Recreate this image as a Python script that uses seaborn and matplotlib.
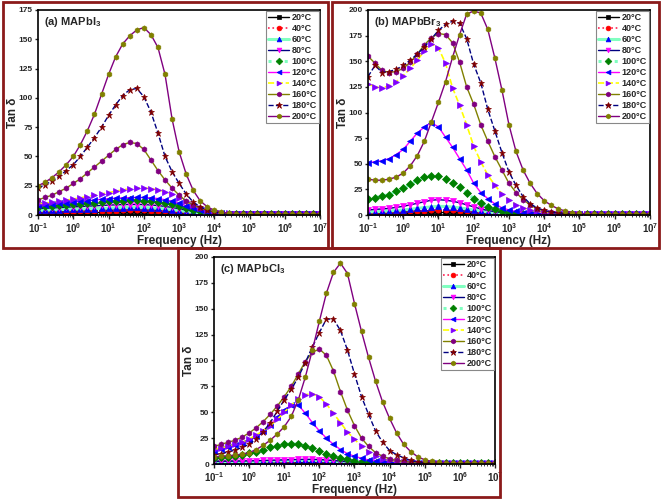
import matplotlib
matplotlib.use("Agg")
import matplotlib.pyplot as plt
from matplotlib.patches import Rectangle
from matplotlib.ticker import LogLocator, NullFormatter
import numpy as np
import seaborn as sns

# log10 of frequency (Hz) for every sample
log_freq = [-1.0, -0.8, -0.6, -0.4, -0.2, 0.0, 0.2, 0.4, 0.6, 0.8,
            1.0, 1.2, 1.4, 1.6, 1.8, 2.0, 2.2, 2.4, 2.6, 2.8,
            3.0, 3.2, 3.4, 3.6, 3.8, 4.0, 4.2, 4.4, 4.6, 4.8,
            5.0, 5.2, 5.4, 5.6, 5.8, 6.0, 6.2, 6.4, 6.6, 6.8, 7.0]

temps = ["20°C", "40°C", "60°C", "80°C", "100°C", "120°C", "140°C", "160°C", "180°C", "200°C"]

# (a) MAPbI3
a20 = [1.5, 1.6, 1.6, 1.7, 1.8, 1.8, 1.9, 2.0, 2.1, 2.2, 2.3, 2.4, 2.4, 2.5, 2.5, 2.4, 2.4, 2.3, 2.1, 1.9,
       1.6, 1.3, 1.1, 0.9, 0.7, 0.6, 0.5, 0.5, 0.5, 0.5, 0.5, 0.5, 0.5, 0.5, 0.5, 0.5, 0.5, 0.5, 0.5, 0.5, 0.5]
a40 = [2.5, 2.6, 2.7, 2.8, 2.9, 3.0, 3.1, 3.3, 3.4, 3.5, 3.7, 3.8, 3.9, 4.0, 4.0, 3.9, 3.8, 3.6, 3.3, 2.9,
       2.4, 1.9, 1.5, 1.1, 0.9, 0.7, 0.6, 0.5, 0.5, 0.5, 0.5, 0.5, 0.5, 0.5, 0.5, 0.5, 0.5, 0.5, 0.5, 0.5, 0.5]
a60 = [4.0, 4.2, 4.4, 4.6, 4.8, 5.0, 5.2, 5.4, 5.6, 5.8, 6.0, 6.2, 6.4, 6.5, 6.5, 6.4, 6.2, 5.8, 5.3, 4.6,
       3.8, 3.0, 2.3, 1.7, 1.2, 0.9, 0.7, 0.6, 0.6, 0.5, 0.5, 0.5, 0.5, 0.5, 0.5, 0.5, 0.5, 0.5, 0.5, 0.5, 0.5]
a80 = [5.5, 5.8, 6.1, 6.4, 6.7, 7.0, 7.3, 7.6, 7.9, 8.2, 8.5, 8.7, 8.9, 9.0, 9.0, 8.9, 8.6, 8.1, 7.4, 6.5,
       5.4, 4.3, 3.3, 2.4, 1.7, 1.2, 0.9, 0.8, 0.7, 0.6, 0.6, 0.5, 0.5, 0.5, 0.5, 0.5, 0.5, 0.5, 0.5, 0.5, 0.5]
a100 = [7.0, 7.4, 7.8, 8.2, 8.7, 9.2, 9.7, 10.2, 10.7, 11.2, 11.6, 12.0, 12.3, 12.5, 12.5, 12.4, 12.1, 11.5, 10.6, 9.3,
        7.8, 6.1, 4.5, 3.2, 2.2, 1.5, 1.1, 0.9, 0.8, 0.7, 0.6, 0.6, 0.6, 0.5, 0.5, 0.5, 0.5, 0.5, 0.5, 0.5, 0.5]
a120 = [8.5, 9.0, 9.5, 10.0, 10.6, 11.1, 11.7, 12.3, 12.9, 13.5, 14.0, 14.4, 14.7, 14.9, 15.0, 15.0, 14.7, 14.1, 13.1, 11.7,
        9.9, 7.9, 5.9, 4.2, 2.9, 2.0, 1.4, 1.1, 0.9, 0.8, 0.7, 0.6, 0.6, 0.6, 0.5, 0.5, 0.5, 0.5, 0.5, 0.5, 0.5]
a140 = [9.5, 10.2, 11.0, 11.8, 12.7, 13.7, 14.7, 15.8, 16.9, 18.0, 19.2, 20.4, 21.5, 22.4, 23.0, 23.1, 22.6, 21.6, 20.0, 17.6,
        14.7, 11.6, 8.6, 6.1, 4.2, 2.8, 1.9, 1.4, 1.1, 0.9, 0.8, 0.7, 0.7, 0.6, 0.6, 0.6, 0.5, 0.5, 0.5, 0.5, 0.5]
a160 = [13, 15, 17, 20, 23, 27, 31, 36, 41, 46, 51, 56, 60, 62, 61, 56, 47, 38, 30, 23,
        17, 12, 8.5, 6, 4, 2.7, 1.8, 1.3, 1.0, 0.8, 0.7, 0.7, 0.6, 0.6, 0.6, 0.5, 0.5, 0.5, 0.5, 0.5, 0.5]
a180 = [23, 26, 29, 33, 38, 43, 50, 58, 66, 75, 85, 94, 102, 107, 108, 101, 88, 70, 50, 37,
        27, 18, 11, 7, 4, 2.5, 1.6, 1.2, 0.9, 0.8, 0.7, 0.7, 0.6, 0.6, 0.6, 0.5, 0.5, 0.5, 0.5, 0.5, 0.5]
a200 = [25, 28, 32, 37, 43, 50, 60, 72, 86, 103, 120, 135, 146, 153, 158, 160, 154, 143, 120, 82,
        54, 35, 21, 12, 7, 4, 2.5, 1.7, 1.2, 1.0, 0.8, 0.7, 0.7, 0.6, 0.6, 0.6, 0.5, 0.5, 0.5, 0.5, 0.5]

# (b) MAPbBr3
b20 = [1.0, 1.1, 1.2, 1.3, 1.4, 1.6, 1.8, 2.0, 2.2, 2.4, 2.5, 2.5, 2.4, 2.2, 2.0, 1.8, 1.5, 1.3, 1.1, 0.9,
       0.8, 0.7, 0.6, 0.6, 0.5, 0.5, 0.5, 0.5, 0.5, 0.5, 0.5, 0.5, 0.5, 0.5, 0.5, 0.5, 0.5, 0.5, 0.5, 0.5, 0.5]
b40 = [2.0, 2.2, 2.4, 2.6, 2.9, 3.2, 3.6, 4.0, 4.4, 4.8, 5.0, 4.9, 4.6, 4.2, 3.7, 3.1, 2.5, 2.0, 1.6, 1.3,
       1.1, 0.9, 0.8, 0.7, 0.7, 0.6, 0.6, 0.6, 0.6, 0.6, 0.5, 0.5, 0.5, 0.5, 0.5, 0.5, 0.5, 0.5, 0.5, 0.5, 0.5]
b60 = [3.0, 3.3, 3.6, 4.0, 4.5, 5.0, 5.7, 6.5, 7.3, 8.0, 8.5, 8.3, 7.8, 7.0, 6.0, 5.0, 4.0, 3.0, 2.3, 1.7,
       1.3, 1.1, 0.9, 0.8, 0.8, 0.7, 0.7, 0.7, 0.6, 0.6, 0.6, 0.6, 0.6, 0.6, 0.6, 0.6, 0.6, 0.6, 0.6, 0.6, 0.6]
b80 = [5.0, 5.5, 6.0, 6.5, 7.5, 8.5, 10.0, 11.5, 13.0, 14.5, 15.0, 14.5, 13.5, 12.0, 10.0, 8.0, 6.0, 4.5, 3.3, 2.4,
       1.8, 1.4, 1.1, 1.0, 0.9, 0.8, 0.8, 0.7, 0.7, 0.7, 0.6, 0.6, 0.6, 0.6, 0.6, 0.6, 0.6, 0.6, 0.6, 0.6, 0.6]
b100 = [16, 17, 18.5, 20, 23, 26, 30, 34, 37, 38.5, 38, 35, 31, 27, 22, 16, 12, 8, 5.5, 3.5,
        2.5, 1.8, 1.4, 1.1, 1.0, 0.9, 0.8, 0.8, 0.7, 0.7, 0.7, 0.6, 0.6, 0.6, 0.6, 0.6, 0.6, 0.6, 0.6, 0.6, 0.6]
b120 = [51, 52, 53, 55, 59, 64, 72, 80, 86, 90, 86, 76, 66, 55, 44, 31, 22, 16, 11, 7,
        5, 3.5, 2.5, 1.8, 1.4, 1.1, 1.0, 0.9, 0.9, 0.8, 0.8, 0.8, 0.7, 0.7, 0.7, 0.7, 0.7, 0.7, 0.7, 0.7, 0.7]
b140 = [128, 125, 124, 126, 130, 136, 143, 151, 160, 167, 163, 148, 124, 107, 88, 67, 52, 39, 29, 21,
        15, 10, 7, 5, 3.5, 2.5, 1.8, 1.3, 1.1, 1.0, 0.9, 0.9, 0.8, 0.8, 0.8, 0.7, 0.7, 0.7, 0.7, 0.7, 0.7]
b160 = [155, 148, 141, 139, 140, 143, 149, 157, 166, 173, 177, 176, 168, 149, 125, 108, 88, 72, 57, 44,
        31, 22, 15, 10, 6, 4, 2.7, 1.9, 1.4, 1.1, 1.0, 0.9, 0.9, 0.8, 0.8, 0.8, 0.7, 0.7, 0.7, 0.7, 0.7]
b180 = [135, 146, 139, 140, 142, 146, 151, 157, 164, 172, 180, 186, 189, 187, 172, 147, 129, 103, 82, 61,
        42, 29, 18, 11, 7, 4.5, 3, 2, 1.5, 1.2, 1.0, 0.9, 0.9, 0.8, 0.8, 0.8, 0.7, 0.7, 0.7, 0.7, 0.7]
b200 = [35, 34, 34, 35, 37, 41, 48, 58, 72, 91, 110, 130, 154, 176, 196, 199, 197, 181, 153, 122,
        88, 62, 44, 31, 21, 14, 9.5, 6, 4, 2.5, 1.7, 1.3, 1.1, 1.0, 0.9, 0.9, 0.8, 0.8, 0.8, 0.8, 0.8]

# (c) MAPbCl3
c20 = [1.0, 1.0, 1.0, 1.1, 1.1, 1.2, 1.2, 1.3, 1.3, 1.4, 1.4, 1.5, 1.5, 1.5, 1.5, 1.4, 1.3, 1.2, 1.0, 0.9,
       0.8, 0.7, 0.6, 0.5, 0.5, 0.5, 0.5, 0.5, 0.5, 0.5, 0.5, 0.5, 0.5, 0.5, 0.5, 0.5, 0.5, 0.5, 0.5, 0.5, 0.5]
c40 = [1.5, 1.5, 1.6, 1.6, 1.7, 1.8, 1.9, 2.0, 2.1, 2.2, 2.3, 2.4, 2.5, 2.5, 2.5, 2.4, 2.2, 1.9, 1.6, 1.3,
       1.0, 0.8, 0.7, 0.6, 0.5, 0.5, 0.5, 0.5, 0.5, 0.5, 0.5, 0.5, 0.5, 0.5, 0.5, 0.5, 0.5, 0.5, 0.5, 0.5, 0.5]
c60 = [1.8, 1.9, 2.0, 2.1, 2.2, 2.3, 2.4, 2.6, 2.8, 3.0, 3.2, 3.3, 3.4, 3.5, 3.5, 3.4, 3.1, 2.7, 2.2, 1.8,
       1.4, 1.1, 0.9, 0.7, 0.6, 0.6, 0.5, 0.5, 0.5, 0.5, 0.5, 0.5, 0.5, 0.5, 0.5, 0.5, 0.5, 0.5, 0.5, 0.5, 0.5]
c80 = [2.5, 2.6, 2.7, 2.8, 2.9, 3.0, 3.2, 3.4, 3.6, 3.8, 4.0, 4.2, 4.4, 4.5, 4.5, 4.3, 3.9, 3.4, 2.8, 2.2,
       1.7, 1.3, 1.0, 0.8, 0.7, 0.6, 0.6, 0.5, 0.5, 0.5, 0.5, 0.5, 0.5, 0.5, 0.5, 0.5, 0.5, 0.5, 0.5, 0.5, 0.5]
c100 = [6, 6.5, 7, 8, 9, 10.5, 12, 14, 16, 17.5, 19, 19.5, 19, 17.5, 15, 12.5, 10, 8, 6, 4.5,
        3.3, 2.4, 1.8, 1.3, 1.0, 0.8, 0.7, 0.7, 0.6, 0.6, 0.6, 0.6, 0.6, 0.6, 0.6, 0.6, 0.6, 0.6, 0.6, 0.6, 0.6]
c120 = [13, 14.5, 16, 18, 20.5, 23.5, 27, 32, 38, 45, 52, 57, 57, 49, 40, 32, 25, 19, 14, 10,
        7.5, 5.5, 4, 3, 2.2, 1.6, 1.2, 1.0, 0.9, 0.9, 0.8, 0.8, 0.8, 0.8, 0.8, 0.8, 0.8, 0.8, 0.8, 0.8, 0.8]
c140 = [14, 15.5, 17, 19, 21, 24, 28, 32, 37, 43, 50, 57, 63, 67, 68, 65, 58, 49, 40, 31,
        24, 17, 12, 8, 5, 3.5, 2.5, 1.8, 1.3, 1.0, 0.9, 0.9, 0.8, 0.8, 0.8, 0.8, 0.8, 0.8, 0.8, 0.8, 0.8]
c160 = [17, 19, 21, 23, 26, 30, 35, 41, 48, 56, 65, 75, 87, 99, 108, 111, 105, 90, 70, 52,
        37, 25, 17, 11, 7.5, 5, 3.5, 2.5, 1.8, 1.3, 1.0, 0.9, 0.9, 0.8, 0.8, 0.8, 0.8, 0.8, 0.8, 0.8, 0.8]
c180 = [9, 10, 11.5, 13.5, 16, 19, 24, 31, 40, 51, 62, 72, 84, 98, 113, 127, 140, 140, 129, 110,
        87, 65, 48, 32, 21, 13, 9, 6, 3.5, 2, 1.3, 1.0, 0.9, 0.9, 0.8, 0.8, 0.8, 0.8, 0.8, 0.8, 0.8]
c200 = [7, 7.5, 8, 8.5, 9.5, 11, 14, 18, 23, 29, 36, 46, 62, 84, 110, 138, 165, 185, 194, 184,
        155, 128, 103, 80, 60, 44, 30, 19, 12, 7, 4, 2.5, 1.6, 1.2, 1.0, 0.9, 0.9, 0.8, 0.8, 0.8, 0.8]

panels = [
    ("(a) MAPbI$_{\\mathbf{3}}$", [a20, a40, a60, a80, a100, a120, a140, a160, a180, a200], 175),
    ("(b) MAPbBr$_{\\mathbf{3}}$", [b20, b40, b60, b80, b100, b120, b140, b160, b180, b200], 200),
    ("(c) MAPbCl$_{\\mathbf{3}}$", [c20, c40, c60, c80, c100, c120, c140, c160, c180, c200], 200),
]

# line colour, line style, line width, marker, marker colour
styles = [
    ("black", "-", 1.0, "s", "black"),
    ("#ff2050", ":", 1.2, "o", "#ff0000"),
    ("#80ffc0", "-", 2.2, "^", "#0000ff"),
    ("#000080", "-", 1.0, "v", "#ff00ff"),
    ("#80ffc0", ":", 2.2, "D", "#008000"),
    ("#ff00ff", "-", 1.0, "<", "#0000ff"),
    ("#ffff00", "--", 1.2, ">", "#8000ff"),
    ("#808000", "-", 1.0, "h", "#800080"),
    ("#000080", "--", 1.0, "*", "#800000"),
    ("#800080", "-", 1.0, "h", "#808000"),
]

sns.set_style("ticks")
plt.rcParams["font.family"] = ["Liberation Sans", "DejaVu Sans"]
plt.rcParams["font.weight"] = "bold"
plt.rcParams["mathtext.fontset"] = "custom"
plt.rcParams["mathtext.rm"] = "Liberation Sans:bold"
plt.rcParams["mathtext.bf"] = "Liberation Sans:bold"
plt.rcParams["mathtext.default"] = "bf"

fig = plt.figure(figsize=(6.61, 4.99), dpi=100)
positions = [
    [0.0575, 0.569, 0.427, 0.411],
    [0.5567, 0.569, 0.4266, 0.411],
    [0.3238, 0.0701, 0.425, 0.415],
]

freq = np.power(10.0, log_freq)
xt = [10.0 ** k for k in range(-1, 8)]
xtl = ["$\\mathbf{10^{%d}}$" % k for k in range(-1, 8)]

for (title, series, ymax), pos in zip(panels, positions):
    ax = fig.add_axes(pos)
    for name, vals, (lc, ls, lw, mk, mc) in zip(temps, series, styles):
        ms = 5.0 if mk == "*" else 3.8
        sns.lineplot(x=freq, y=vals, ax=ax, color=lc, linestyle=ls, linewidth=lw,
                     marker=mk, markersize=ms, markerfacecolor=mc, markeredgecolor=mc,
                     markeredgewidth=0.5, label=name)
    ax.set_xscale("log")
    ax.set_xlim(0.1, 1e7)
    ax.set_ylim(0, ymax)
    ax.set_xticks(xt)
    ax.set_xticklabels(xtl)
    ax.xaxis.set_minor_locator(LogLocator(base=10, subs=np.arange(2, 10)))
    ax.xaxis.set_minor_formatter(NullFormatter())
    ax.set_yticks(np.arange(0, ymax + 1, 25))
    ax.tick_params(axis="x", labelsize=7, length=3, width=1, pad=1.5)
    ax.tick_params(axis="y", labelsize=6, length=2.5, width=1, pad=1.2)
    ax.tick_params(which="minor", length=1.5, width=0.6)
    for lab in ax.get_yticklabels():
        lab.set_fontweight("bold")
    for sp in ax.spines.values():
        sp.set_visible(True)
        sp.set_linewidth(1.2)
        sp.set_color("black")
    ax.set_xlabel("Frequency (Hz)", fontsize=8.5, fontweight="bold", labelpad=0)
    ax.set_ylabel("Tan δ", fontsize=8.5, fontweight="bold")
    ax.yaxis.set_label_coords(-0.068, 0.5)
    ax.text(0.02, 0.975, title, transform=ax.transAxes, ha="left", va="top",
            fontsize=8, fontweight="bold", zorder=20)
    leg = ax.legend(loc="upper right", fontsize=6.5, frameon=True, fancybox=False,
                    framealpha=1, edgecolor="#888888", borderaxespad=0.1,
                    labelspacing=0.22, handlelength=2.3, handletextpad=0.3,
                    borderpad=0.25, markerscale=0.9)
    leg.get_frame().set_linewidth(0.8)
    for t in leg.get_texts():
        t.set_fontweight("bold")

# dark red frames around the three panels
frame_col = "#8b1a1a"
for (x0, y0, x1, y1) in [(3, 2, 328, 248), (332, 2, 659, 248), (178, 248, 500, 497)]:
    fig.add_artist(Rectangle((x0 / 661, 1 - y1 / 499), (x1 - x0) / 661, (y1 - y0) / 499,
                             transform=fig.transFigure, fill=False,
                             edgecolor=frame_col, linewidth=2))

fig.savefig("out.png", dpi=100)
